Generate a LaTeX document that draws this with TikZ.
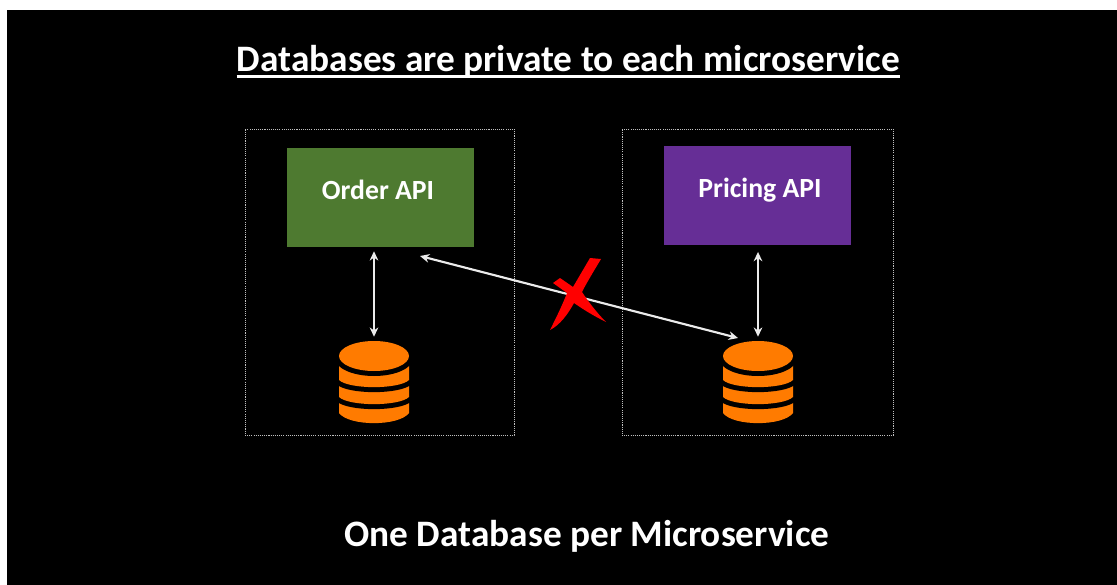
\documentclass[tikz,border=0pt]{standalone}
\usepackage{fontspec}
\setmainfont{Carlito}
\usetikzlibrary{arrows.meta}
\definecolor{dbor}{HTML}{FF7B00}
\definecolor{apigreen}{HTML}{4E7A30}
\definecolor{apipurple}{HTML}{662E96}
\tikzset{
  x=0.75pt,y=-0.75pt,
  frame/.style={draw=white!75!black,line width=0.6pt,dash pattern=on 0.8pt off 0.8pt},
  apibox/.style={minimum width=140.25pt,minimum height=74.25pt,inner sep=0pt},
  apitext/.style={text=white,inner sep=0pt,anchor=base,font=\bfseries\fontsize{20.8}{23}\selectfont},
  headline/.style={text=white,inner sep=0pt,font=\bfseries\fontsize{28}{31}\selectfont},
  link/.style={draw=white!92!black,line width=1.6pt,{Stealth[length=7pt,width=6.5pt]}-{Stealth[length=7pt,width=6.5pt]}},
  dbslot/.style={minimum width=51.75pt,minimum height=61.5pt,inner sep=0pt},
}
\newcommand{\dbband}[2]{% side-top y, side-bottom y: bottom curve dips below
  \draw[black,line width=7.5pt,line join=round] (-35,#1) -- (-35,#2) .. controls (-25,#2+9.5) and (25,#2+9.5) .. (35,#2) -- (35,#1) -- cycle;
  \fill[dbor] (-35,#1) -- (-35,#2) .. controls (-25,#2+9.5) and (25,#2+9.5) .. (35,#2) -- (35,#1) -- cycle;
}
\newcommand{\dbicon}[3]{%
  \node[dbslot] (#1) at (#2,#3) {};
  \begin{scope}[shift={(#2,#3)}]
    \fill[dbor] (-35,17) -- (-35,31) .. controls (-25,44.5) and (25,44.5) .. (35,31) -- (35,17) -- cycle;
    \dbband{-2}{15}
    \dbband{-22}{-2}
    \draw[black,line width=7.5pt] (0,-26) ellipse [x radius=35,y radius=15];
    \fill[dbor] (0,-26) ellipse [x radius=35,y radius=15];
  \end{scope}
}
\begin{document}
\begin{tikzpicture}
\useasboundingbox (0,0) rectangle (1117,585);
\fill[white] (0,0) rectangle (1117,585);
\fill[black] (7,10) rectangle (1117,585);

\node[frame,minimum width=201.75pt,minimum height=229.5pt,inner sep=0pt] (leftframe) at (379.5,282) {};
\node[frame,minimum width=203.25pt,minimum height=229.5pt,inner sep=0pt] (rightframe) at (757.5,282) {};

\node[apibox,fill=apigreen] (order) at (380.5,197.5) {};
\node[apibox,fill=apipurple] (pricing) at (757.5,195.5) {};
\node[apitext] (ordertext) at (378,199) {Order API};
\node[apitext] (pricingtext) at (760,197) {Pricing API};

\dbicon{dba}{374}{382}
\dbicon{dbb}{758}{382}

\node[headline] (title) at (568.5,61) {Databases are private to each microservice};
\draw[white,line width=1.8pt] ([yshift=-4pt]title.base west) -- ([yshift=-4pt]title.base east);
\node[headline] (foot) at (587,536.5) {One Database per Microservice};

\draw[link,shorten >=3pt,shorten <=3pt] (order.south -| dba.north) -- (dba.north);
\draw[link,shorten >=3pt,shorten <=5pt] (pricing.south -| dbb.north) -- (dbb.north);
\coordinate (crossa) at (420,256);
\coordinate (crossb) at (738,338);
\draw[link] (crossa) -- (crossb);

\fill[red] (590,258) -- (601,259) .. controls (592,274) and (586,284) .. (582,292)
  .. controls (590,304) and (598,314) .. (606,322)
  .. controls (594,316) and (584,310) .. (574,303)
  .. controls (568,314) and (560,325) .. (550,330)
  .. controls (556,318) and (562,306) .. (567,293)
  -- (553,283) -- (560,278) -- (573,287) -- cycle;
\end{tikzpicture}
\end{document}
